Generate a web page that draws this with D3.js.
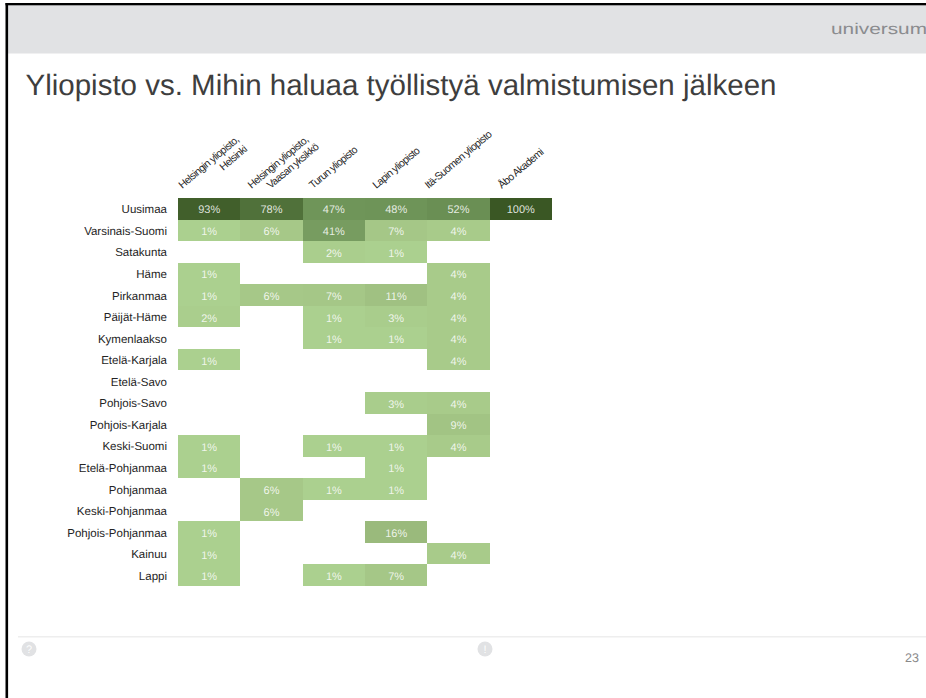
<!DOCTYPE html>
<html><head><meta charset="utf-8">
<script src="https://cdn.jsdelivr.net/npm/d3@7/dist/d3.min.js"></script>
<style>html,body{margin:0;padding:0;background:#fff}svg{display:block}text{font-family:"Liberation Sans",Arial,sans-serif;text-rendering:geometricPrecision;opacity:.99}</style>
</head><body><svg id="c" width="926" height="698"></svg>
<script>
const regions=["Uusimaa","Varsinais-Suomi","Satakunta","Häme","Pirkanmaa","Päijät-Häme","Kymenlaakso","Etelä-Karjala","Etelä-Savo","Pohjois-Savo","Pohjois-Karjala","Keski-Suomi","Etelä-Pohjanmaa","Pohjanmaa","Keski-Pohjanmaa","Pohjois-Pohjanmaa","Kainuu","Lappi"];
const universities=[["Helsingin yliopisto,","Helsinki"],["Helsingin yliopisto,","Vaasan yksikkö"],["Turun yliopisto"],["Lapin yliopisto"],["Itä-Suomen yliopisto"],["Åbo Akademi"]];
const helsinki=[93,1,null,1,1,2,null,1,null,null,null,1,1,null,null,1,1,1];
const vaasa=[78,6,null,null,6,null,null,null,null,null,null,null,null,6,6,null,null,null];
const turku=[47,41,2,null,7,1,1,null,null,null,null,1,null,1,null,null,null,1];
const lappi=[48,7,1,null,11,3,1,null,null,3,null,1,1,1,null,16,null,7];
const itaSuomi=[52,4,null,4,4,4,4,4,null,4,9,4,null,null,null,null,4,null];
const abo=[100,null,null,null,null,null,null,null,null,null,null,null,null,null,null,null,null,null];
const columns=[helsinki,vaasa,turku,lappi,itaSuomi,abo];

const svg=d3.select("#c");
svg.append("rect").attr("x",0).attr("y",0).attr("width",926).attr("height",698).attr("fill","#fff");
svg.append("rect").attr("x",8).attr("y",5).attr("width",918).attr("height",48.5).attr("fill","#e1e2e4");
svg.append("rect").attr("x",5.5).attr("y",3).attr("width",920.5).attr("height",2.3).attr("fill","#000");
svg.append("rect").attr("x",5.5).attr("y",3).attr("width",2.6).attr("height",695).attr("fill","#000");
svg.append("text").attr("x",831).attr("y",33.5).attr("font-size",15.5).attr("textLength",96).attr("lengthAdjust","spacingAndGlyphs").attr("fill","#8a8b8e").text("universum");
svg.append("text").attr("x",25.5).attr("y",95).attr("font-size",29.5).attr("fill","#3c3c3c").text("Yliopisto vs. Mihin haluaa työllistyä valmistumisen jälkeen");

const x=d3.scaleBand().domain(d3.range(universities.length)).range([178,552]);
const y=d3.scaleBand().domain(regions).range([198,586]);
const color=d3.scaleLinear().domain([1,4,16,47,100]).range(["#abd08f","#a8cb8a","#9aba7c","#6f9559","#3a5724"]);

const cells=svg.append("g");
columns.forEach((col,ci)=>{
  col.forEach((v,ri)=>{
    if(v===null)return;
    cells.append("rect").attr("x",x(ci)).attr("y",y(regions[ri])).attr("width",x.bandwidth()).attr("height",y.bandwidth()).attr("fill",color(v)).attr("shape-rendering","crispEdges");
    cells.append("text").attr("x",x(ci)+x.bandwidth()/2).attr("y",y(regions[ri])+y.bandwidth()/2+(ri===0?4.5:5)).attr("text-anchor","middle").attr("font-size",11).attr("fill","#fff").attr("fill-opacity",0.85).text(v+"%");
  });
});
regions.forEach((r,i)=>{
  svg.append("text").attr("x",167).attr("y",y(r)+y.bandwidth()/2+(i===0?3.8:4.5)).attr("text-anchor","end").attr("font-size",11.5).attr("fill","#222").text(r);
});
// label start offsets from the band centre, one [dx, y] pair per line
const labelLayout=[[[-27,189],[14,171]],[[-20,189],[-1,189]],[[-21,189]],[[-20,189]],[[-30,189]],[[-19,189]]];
universities.forEach((u,i)=>{
  u.forEach((l,k)=>{
    const [dx,yy]=labelLayout[i][k];
    svg.append("text").attr("transform",`translate(${x(i)+x.bandwidth()/2+dx},${yy}) rotate(-40)`).attr("font-size",10.5).attr("letter-spacing",-0.6).attr("fill","#222").text(l);
  });
});
svg.append("line").attr("x1",18).attr("x2",926).attr("y1",636.7).attr("y2",636.7).attr("stroke","#eeeeee").attr("stroke-width",1.5);
[[29,"?"],[485,"!"]].forEach(([cx,t])=>{
  svg.append("circle").attr("cx",cx).attr("cy",649).attr("r",7.5).attr("fill","#e1e2e4");
  svg.append("text").attr("x",cx).attr("y",653).attr("text-anchor","middle").attr("font-size",11).attr("fill","#fff").text(t);
});
svg.append("text").attr("x",905).attr("y",661.5).attr("font-size",12.5).attr("fill","#888").text("23");
</script></body></html>
